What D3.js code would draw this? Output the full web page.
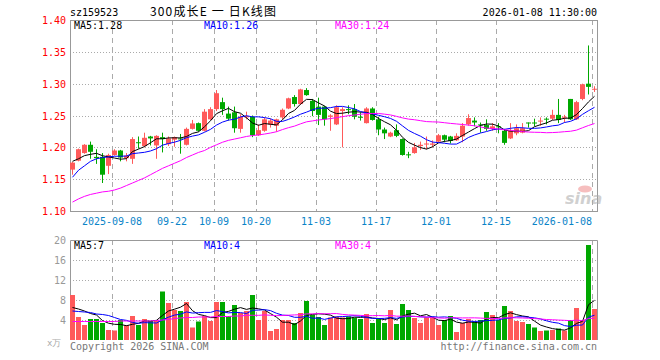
<!DOCTYPE html>
<html>
<head>
<meta charset="utf-8">
<script src="https://cdn.jsdelivr.net/npm/d3@7"></script>
<style>
  body { margin: 0; background: #fff; }
  text { font-family: "DejaVu Sans Mono", "Liberation Mono", monospace; font-size: 10px; }
</style>
</head>
<body>
<div id="chart"></div>
<script>
// trading days shown on the chart
var dates = [
  "2025-08-28","2025-08-29","2025-09-01","2025-09-02","2025-09-03","2025-09-04","2025-09-05",
  "2025-09-08","2025-09-09","2025-09-10","2025-09-11","2025-09-12",
  "2025-09-15","2025-09-16","2025-09-17","2025-09-18","2025-09-19",
  "2025-09-22","2025-09-23","2025-09-24","2025-09-25","2025-09-26","2025-09-29","2025-09-30",
  "2025-10-09","2025-10-10","2025-10-13","2025-10-14","2025-10-15","2025-10-16","2025-10-17",
  "2025-10-20","2025-10-21","2025-10-22","2025-10-23","2025-10-24",
  "2025-10-27","2025-10-28","2025-10-29","2025-10-30","2025-10-31",
  "2025-11-03","2025-11-04","2025-11-05","2025-11-06","2025-11-07",
  "2025-11-10","2025-11-11","2025-11-12","2025-11-13","2025-11-14",
  "2025-11-17","2025-11-18","2025-11-19","2025-11-20","2025-11-21",
  "2025-11-24","2025-11-25","2025-11-26","2025-11-27","2025-11-28",
  "2025-12-01","2025-12-02","2025-12-03","2025-12-04","2025-12-05",
  "2025-12-08","2025-12-09","2025-12-10","2025-12-11","2025-12-12",
  "2025-12-15","2025-12-16","2025-12-17","2025-12-18","2025-12-19",
  "2025-12-22","2025-12-23","2025-12-24","2025-12-25","2025-12-26",
  "2025-12-29","2025-12-30","2025-12-31",
  "2026-01-05","2026-01-06","2026-01-07","2026-01-08"
];

var open = [
  1.165,1.179,1.191,1.204,1.185,1.185,1.171,1.188,1.195,1.183,
  1.182,1.208,1.202,1.217,1.203,1.216,1.205,1.212,1.214,1.204,
  1.229,1.238,1.226,1.244,1.260,1.271,1.253,1.255,1.229,1.247,
  1.248,1.219,1.226,1.236,1.234,1.247,1.261,1.279,1.268,1.290,
  1.273,1.264,1.264,1.248,1.236,1.257,1.260,1.260,1.248,1.238,
  1.261,1.244,1.228,1.217,1.227,1.213,1.189,1.191,1.202,1.205,
  1.204,1.209,1.219,1.217,1.211,1.217,1.236,1.242,1.236,1.235,
  1.229,1.233,1.226,1.214,1.222,1.223,1.239,1.239,1.241,1.245,
  1.245,1.251,1.247,1.276,1.244,1.276,1.300,1.291
];
var high = [
  1.177,1.198,1.205,1.209,1.197,1.191,1.190,1.197,1.196,1.191,
  1.216,1.217,1.223,1.218,1.219,1.223,1.217,1.217,1.221,1.231,
  1.243,1.239,1.260,1.263,1.290,1.278,1.264,1.264,1.252,1.256,
  1.250,1.236,1.247,1.245,1.245,1.261,1.278,1.282,1.292,1.293,
  1.276,1.278,1.265,1.252,1.266,1.263,1.266,1.268,1.255,1.263,
  1.263,1.248,1.231,1.2245,1.236,1.214,1.193,1.207,1.209,1.217,
  1.211,1.221,1.220,1.218,1.222,1.238,1.252,1.247,1.239,1.244,
  1.238,1.238,1.229,1.238,1.236,1.238,1.239,1.245,1.247,1.247,
  1.259,1.276,1.251,1.276,1.273,1.300,1.360,1.296
];
var low = [
  1.157,1.178,1.190,1.182,1.174,1.144,1.158,1.187,1.178,1.178,
  1.174,1.198,1.200,1.203,1.182,1.192,1.202,1.201,1.190,1.203,
  1.228,1.2245,1.225,1.243,1.257,1.251,1.242,1.223,1.223,1.244,
  1.216,1.218,1.2245,1.231,1.2245,1.244,1.260,1.264,1.267,1.281,
  1.249,1.235,1.234,1.226,1.235,1.200,1.252,1.244,1.242,1.2375,
  1.242,1.219,1.213,1.216,1.216,1.187,1.183,1.190,1.196,1.197,
  1.200,1.208,1.208,1.206,1.210,1.208,1.234,1.233,1.223,1.226,
  1.226,1.222,1.204,1.213,1.219,1.222,1.231,1.233,1.234,1.236,
  1.243,1.238,1.239,1.243,1.243,1.274,1.283,1.287
];
var close = [
  1.176,1.197,1.204,1.193,1.183,1.157,1.188,1.195,1.184,1.187,
  1.213,1.207,1.215,1.214,1.218,1.213,1.214,1.216,1.213,1.229,
  1.2375,1.226,1.256,1.260,1.285,1.260,1.245,1.230,1.248,1.249,
  1.219,1.227,1.244,1.242,1.244,1.259,1.277,1.268,1.291,1.282,
  1.257,1.251,1.244,1.250,1.263,1.260,1.259,1.248,1.247,1.261,
  1.243,1.228,1.222,1.223,1.218,1.188,1.188,1.200,1.204,1.206,
  1.206,1.219,1.212,1.210,1.218,1.234,1.246,1.239,1.235,1.229,
  1.233,1.232,1.207,1.226,1.230,1.230,1.238,1.238,1.242,1.244,
  1.251,1.243,1.248,1.244,1.271,1.299,1.295,1.292
];
// volume, 万手
var volume = [
  9.0,4.6,3.0,4.2,4.2,3.4,2.0,1.9,4.0,3.0,
  4.8,3.0,4.2,3.8,3.9,9.7,7.4,6.0,5.8,7.6,
  2.5,3.7,4.8,3.8,7.6,7.6,4.8,7.0,5.4,5.8,
  9.0,4.0,5.8,1.8,2.2,4.0,4.0,3.4,5.4,7.8,
  5.0,4.6,3.0,4.5,4.7,4.5,4.7,4.5,4.2,5.2,
  3.4,4.2,3.4,6.0,3.2,7.2,6.0,4.4,3.4,4.5,
  4.5,3.0,4.0,4.8,1.6,3.4,4.2,3.7,4.0,5.6,
  5.0,4.0,6.8,5.8,3.8,3.6,3.2,2.5,1.8,1.9,
  2.0,2.3,1.9,4.0,6.4,4.0,19.0,6.2
];

// moving averages at the left edge depend on days before the window
var ma5Head = [1.178,1.182,1.187,1.189];
var ma10Head = [1.153,1.164,1.171,1.178,1.182,1.184,1.185,1.186,1.186];
var ma30Head = [1.114,1.119,1.123,1.126,1.128,1.130,1.131,1.133,1.136,1.140,
  1.144,1.148,1.152,1.157,1.162,1.167,1.171,1.175,1.179,1.184,
  1.188,1.192,1.195,1.200,1.204,1.208,1.211,1.213,1.215];
var volMa5Head = [6.5,6.2,5.8,5.3];
var volMa10Head = [5.8,5.7,5.6,5.5,5.2,5.1,4.9,4.5,4.1];
var volMa30Head = [3.7,3.7,3.7,3.7,3.7,3.7,3.7,3.7,3.8,3.8,
  3.8,3.8,3.8,3.8,3.9,4.0,4.1,4.3,4.4,4.5,
  4.5,4.6,4.6,4.6,4.7,4.7,4.7,4.8,4.8];

var tickDates = ["2025-09-08","2025-09-22","2025-10-09","2025-10-20","2025-11-03",
  "2025-11-17","2025-12-01","2025-12-15","2026-01-08"];
var tickLabels = ["2025-09-08","09-22","10-09","10-20","11-03","11-17","12-01","12-15","2026-01-08"];
var priceTicks = [1.10,1.15,1.20,1.25,1.30,1.35,1.40];
var volTicks = [4,8,12,16,20];
var priceMaLabels = ["MA5:1.28","MA10:1.26","MA30:1.24"];
var volMaLabels = ["MA5:7","MA10:4","MA30:4"];

var upColor = "#ff5a5a", downColor = "#00a800";
var maColors = ["#000000","#0000ff","#ff00ff"];

var W = 660, H = 360;
var left = 70, right = 597;
var pTop = 20, pBottom = 211;
var vTop = 240, vBottom = 340;

var svg = d3.select("#chart").append("svg")
  .attr("width", W).attr("height", H);

var x = d3.scaleBand().domain(dates).range([left, left + 6 * dates.length]).padding(0);
var y = d3.scaleLinear().domain([1.10, 1.40]).range([pBottom, pTop]);
var yv = d3.scaleLinear().domain([0, 20]).range([vBottom, vTop]);

function movingAvg(vals, n, head) {
  return vals.map(function (v, i) {
    return i < head.length ? head[i] : d3.mean(vals.slice(i - n + 1, i + 1));
  });
}
var priceMa = [movingAvg(close, 5, ma5Head), movingAvg(close, 10, ma10Head), movingAvg(close, 30, ma30Head)];
var volMa = [movingAvg(volume, 5, volMa5Head), movingAvg(volume, 10, volMa10Head), movingAvg(volume, 30, volMa30Head)];

var rows = dates.map(function (d, i) {
  return { date: d, o: open[i], h: high[i], l: low[i], c: close[i], v: volume[i], up: close[i] >= open[i] };
});

var crisp = function (v) { return Math.round(v) + 0.5; };

// header
svg.append("text").attr("x", left).attr("y", 16).text("sz159523");
svg.append("text").attr("x", 150).attr("y", 16)
  .style("font-family", "'Noto Sans CJK SC', sans-serif").style("font-size", "12px")
  .attr("textLength", 126).attr("lengthAdjust", "spacing")
  .text("300成长E 一 日K线图");
svg.append("text").attr("x", right).attr("y", 16).attr("text-anchor", "end").text("2026-01-08 11:30:00");

// grid: price panel
svg.selectAll(".hgrid").data(priceTicks.slice(1, -1)).enter().append("line")
  .attr("x1", left).attr("x2", right)
  .attr("y1", d => crisp(y(d))).attr("y2", d => crisp(y(d)))
  .attr("stroke", "#aaa").attr("stroke-dasharray", "1,2");
svg.selectAll(".vgrid").data(tickDates).enter().append("line")
  .attr("x1", d => crisp(x(d))).attr("x2", d => crisp(x(d)))
  .attr("y1", pTop).attr("y2", pBottom)
  .attr("stroke", "#aaa").attr("stroke-dasharray", "5,4");

// grid: volume panel
svg.selectAll(".vhgrid").data(volTicks.slice(0, -1)).enter().append("line")
  .attr("x1", left).attr("x2", right)
  .attr("y1", d => crisp(yv(d))).attr("y2", d => crisp(yv(d)))
  .attr("stroke", "#aaa").attr("stroke-dasharray", "1,2");
svg.selectAll(".vvgrid").data(tickDates).enter().append("line")
  .attr("x1", d => crisp(x(d))).attr("x2", d => crisp(x(d)))
  .attr("y1", vTop).attr("y2", vBottom)
  .attr("stroke", "#aaa").attr("stroke-dasharray", "5,4");

// frames
svg.append("rect").attr("x", left + 0.5).attr("y", pTop + 0.5)
  .attr("width", right - left).attr("height", pBottom - pTop)
  .attr("fill", "none").attr("stroke", "#999");
svg.append("path")
  .attr("d", "M" + (left + 0.5) + "," + vBottom + "V" + (vTop + 0.5) + "H" + (right + 0.5) + "V" + vBottom)
  .attr("fill", "none").attr("stroke", "#999");

// price labels
svg.selectAll(".plabel").data(priceTicks).enter().append("text")
  .attr("x", 66).attr("y", d => y(d) + 4)
  .attr("text-anchor", "end").attr("fill", "#ff0000")
  .text(d => d.toFixed(2));

// volume labels
svg.selectAll(".vlabel").data(volTicks).enter().append("text")
  .attr("x", 66).attr("y", d => yv(d) + 4)
  .attr("text-anchor", "end").attr("fill", "#999")
  .text(d => d);
svg.append("text").attr("x", 47).attr("y", 346).attr("fill", "#aaa").style("font-size", "9px").text("x万");

// date labels
svg.selectAll(".dlabel").data(tickDates).enter().append("text")
  .attr("x", d => x(d))
  .attr("y", 225)
  .attr("text-anchor", (d, i) => i === tickDates.length - 1 ? "end" : "middle")
  .attr("fill", "#0a84c8")
  .text((d, i) => tickLabels[i]);

// watermark
var wm = svg.append("g").attr("opacity", 0.55);
wm.append("ellipse").attr("cx", 585).attr("cy", 189).attr("rx", 7).attr("ry", 3.5).attr("fill", "#f08a8a");
wm.append("text").attr("x", 565).attr("y", 204)
  .style("font-family", "'DejaVu Sans', sans-serif").style("font-size", "16px")
  .style("font-style", "italic").style("font-weight", "bold")
  .attr("fill", "#aaa").text("sina");

// candles
var half = 2.5;
svg.selectAll(".wick").data(rows).enter().append("line")
  .attr("x1", d => x(d.date) + half).attr("x2", d => x(d.date) + half)
  .attr("y1", d => y(d.h)).attr("y2", d => y(d.l))
  .attr("stroke", d => d.up ? upColor : downColor);
svg.selectAll(".body").data(rows).enter().append("rect")
  .attr("x", d => x(d.date))
  .attr("y", d => y(Math.max(d.o, d.c)))
  .attr("width", 5)
  .attr("height", d => Math.max(1, Math.abs(y(d.o) - y(d.c))))
  .attr("fill", d => d.up ? upColor : downColor);

// volume bars
svg.selectAll(".vbar").data(rows).enter().append("rect")
  .attr("x", d => x(d.date))
  .attr("y", d => yv(d.v))
  .attr("width", 5)
  .attr("height", d => vBottom - yv(d.v))
  .attr("fill", d => d.up ? upColor : downColor);

// moving average lines
var priceLine = d3.line().x((d, i) => x(dates[i]) + half).y(d => y(d));
var volLine = d3.line().x((d, i) => x(dates[i]) + half).y(d => yv(d));
priceMa.forEach(function (m, k) {
  svg.append("path").attr("d", priceLine(m)).attr("fill", "none").attr("stroke", maColors[k]).attr("stroke-width", 1);
});
volMa.forEach(function (m, k) {
  svg.append("path").attr("d", volLine(m)).attr("fill", "none").attr("stroke", maColors[k]).attr("stroke-width", 1);
});

// MA legends
var legendX = [74, 204, 335];
priceMaLabels.forEach(function (t, k) {
  svg.append("text").attr("x", legendX[k]).attr("y", 29).attr("fill", maColors[k]).text(t);
});
volMaLabels.forEach(function (t, k) {
  svg.append("text").attr("x", legendX[k]).attr("y", 249).attr("fill", maColors[k]).text(t);
});
svg.append("rect").attr("x", 586).attr("y", 245).attr("width", 4.5).attr("height", 4.5).attr("fill", downColor);

// footer
svg.append("text").attr("x", left).attr("y", 350).attr("fill", "#777").text("Copyright 2026 SINA.COM");
svg.append("text").attr("x", right).attr("y", 350).attr("text-anchor", "end").attr("fill", "#777").text("http://finance.sina.com.cn");
</script>
</body>
</html>
